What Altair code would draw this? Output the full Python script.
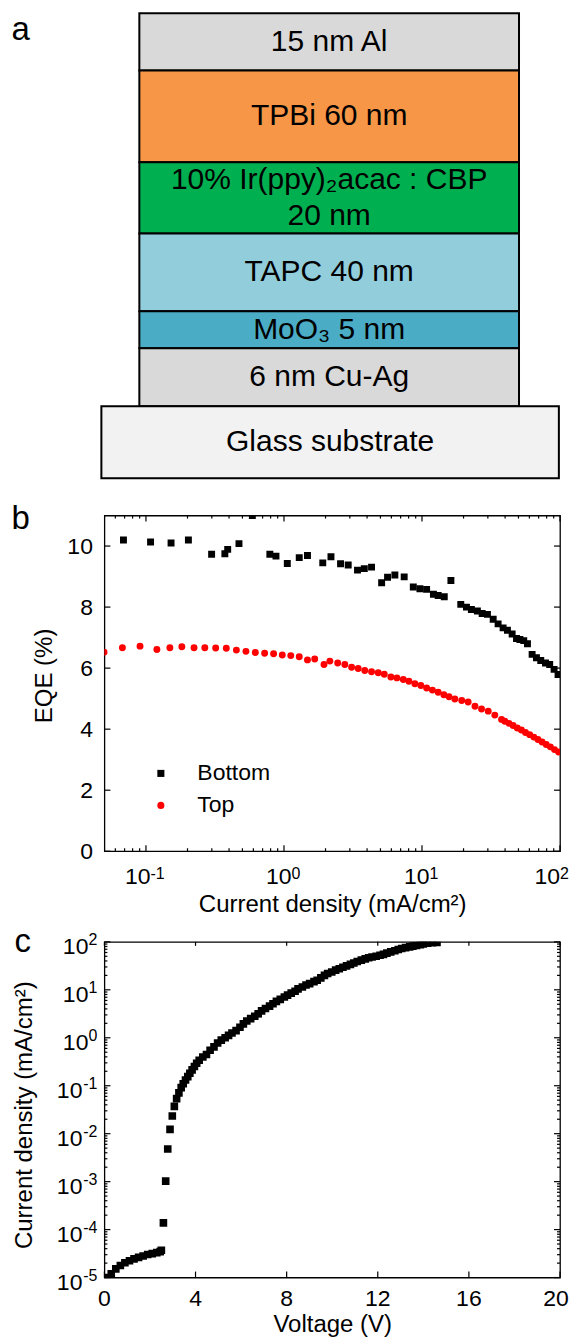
import altair as alt
import numpy as np
import pandas as pd

FONT = "Liberation Sans"

# ---------------- panel a: device stack ----------------
stack_labels = ["15 nm Al", "TPBi 60 nm", "10% Ir(ppy)₂acac : CBP\n20 nm",
                "TAPC 40 nm", "MoO₃ 5 nm", "6 nm Cu-Ag", "Glass substrate"]
stack_colors = ["#d9d9d9", "#f79646", "#00b050", "#92cddc", "#4bacc6", "#d9d9d9", "#f2f2f2"]
stack_heights = [57.3, 91.7, 71.3, 78.0, 37.0, 58.0, 72.0]   # drawn thickness (schematic units)
stack_left = [0, 0, 0, 0, 0, 0, -10]
stack_right = [100, 100, 100, 100, 100, 100, 110.5]

# ---------------- panel b: EQE vs current density ----------------
bottom_j = [0.0687, 0.108, 0.152, 0.203, 0.299, 0.373, 0.391, 0.472, 0.59, 0.79,
            0.875, 1.057, 1.29, 1.48, 1.91, 2.19, 2.57, 2.92, 3.41, 3.82,
            4.31, 5.1, 5.63, 6.36, 7.43, 8.65, 9.66, 10.8, 12.1, 13.1,
            14.5, 16.2, 19.1, 21.0, 22.8, 25.2, 27.3, 29.8, 32.8, 35.6,
            38.7, 41.6, 45.0, 48.4, 51.2, 54.6, 58.1, 62.8, 67.5, 72.5,
            78.5, 84.2, 90.6, 96.8]
bottom_eqe = [10.2, 10.13, 10.1, 10.2, 9.73, 9.75, 9.89, 10.08, 11.0, 9.73,
              9.67, 9.43, 9.62, 9.69, 9.45, 9.65, 9.42, 9.38, 9.21, 9.26,
              9.31, 8.8, 8.98, 9.05, 8.99, 8.66, 8.6, 8.58, 8.42, 8.38,
              8.34, 8.87, 8.09, 8.0, 7.92, 7.87, 7.79, 7.76, 7.6, 7.45,
              7.32, 7.24, 7.12, 6.97, 6.94, 6.9, 6.8, 6.45, 6.34, 6.25,
              6.17, 6.12, 5.96, 5.79]
top_j = [0.0497, 0.0675, 0.0906, 0.12, 0.149, 0.182, 0.223, 0.267, 0.32, 0.382,
         0.452, 0.53, 0.62, 0.724, 0.841, 0.972, 1.12, 1.29, 1.48, 1.67,
         1.95, 2.15, 2.45, 2.76, 3.09, 3.45, 3.85, 4.31, 4.82, 5.33,
         5.95, 6.58, 7.32, 8.04, 8.88, 9.81, 10.8, 11.9, 13.1, 14.4,
         15.7, 17.3, 19.4, 21.6, 24.2, 27.0, 30.2, 33.7, 37.7, 39.8,
         42.7, 45.7, 49.0, 52.5, 56.2, 60.3, 64.6, 69.2, 74.1, 79.4,
         85.1, 91.2, 97.7]
top_eqe = [6.52, 6.67, 6.72, 6.61, 6.67, 6.7, 6.67, 6.67, 6.66, 6.65,
           6.59, 6.55, 6.51, 6.49, 6.47, 6.43, 6.41, 6.37, 6.27, 6.3,
           6.12, 6.23, 6.17, 6.12, 6.03, 5.99, 5.92, 5.88, 5.85, 5.8,
           5.71, 5.68, 5.63, 5.57, 5.49, 5.43, 5.35, 5.28, 5.21, 5.13,
           5.06, 4.99, 4.94, 4.89, 4.75, 4.66, 4.59, 4.46, 4.32, 4.26,
           4.19, 4.12, 4.04, 3.97, 3.89, 3.82, 3.74, 3.66, 3.58, 3.5,
           3.42, 3.33, 3.25]
b_major = [0.1, 1, 10, 100]
b_exp = ["-1", "0", "1", "2"]
b_minor = [m * 10.0 ** k for k in (-2, -1, 0, 1) for m in range(2, 10) if 0.05 < m * 10.0 ** k < 100]
b_yticks = [0, 2, 4, 6, 8, 10]

# ---------------- panel c: J-V ----------------
volt = [0.1, 0.3, 0.5, 0.7, 0.9, 1.1, 1.3, 1.5, 1.7, 1.9,
        2.1, 2.3, 2.45, 2.5, 2.59, 2.69, 2.78, 2.88, 2.98, 3.07,
        3.17, 3.27, 3.37, 3.46, 3.56, 3.66, 3.75, 3.85, 3.95, 4.05,
        4.16, 4.32, 4.48, 4.64, 4.81, 4.97, 5.13, 5.3, 5.45, 5.6,
        5.78, 5.95, 6.1, 6.25, 6.42, 6.6, 6.75, 6.9, 7.07, 7.25,
        7.4, 7.55, 7.72, 7.9, 8.04, 8.2, 8.37, 8.5, 8.69, 8.85,
        9.01, 9.2, 9.34, 9.5, 9.66, 9.8, 9.98, 10.15, 10.31, 10.47,
        10.63, 10.8, 10.95, 11.1, 11.28, 11.45, 11.6, 11.75, 11.93, 12.1,
        12.25, 12.4, 12.57, 12.75, 12.9, 13.05, 13.22, 13.4, 13.54, 13.7,
        13.87, 14.0, 14.19, 14.4, 14.6]
log_j = [-5.0, -4.92, -4.82, -4.75, -4.69, -4.65, -4.61, -4.58, -4.55, -4.52,
         -4.5, -4.48, -4.46, -4.43, -3.86, -2.99, -2.32, -1.91, -1.63, -1.43,
         -1.27, -1.15, -1.04, -0.96, -0.88, -0.81, -0.74, -0.67, -0.6, -0.53,
         -0.47, -0.4, -0.35, -0.26, -0.19, -0.11, -0.05, 0.0, 0.05, 0.1,
         0.15, 0.22, 0.29, 0.35, 0.4, 0.45, 0.5, 0.56, 0.61, 0.66,
         0.71, 0.76, 0.8, 0.85, 0.89, 0.93, 0.97, 1.02, 1.06, 1.1,
         1.13, 1.17, 1.2, 1.25, 1.3, 1.34, 1.37, 1.41, 1.44, 1.47,
         1.5, 1.53, 1.56, 1.59, 1.62, 1.645, 1.67, 1.685, 1.7, 1.72,
         1.74, 1.765, 1.79, 1.815, 1.84, 1.86, 1.88, 1.895, 1.91, 1.925,
         1.94, 1.955, 1.97, 1.98, 1.99]
c_xticks = [0, 4, 8, 12, 16, 20]
c_xlabels = ["0", "4", "8", "12", "16", "20"]
c_major = [1e-5, 1e-4, 1e-3, 1e-2, 1e-1, 1e0, 1e1, 1e2]
c_exp = ["-5", "-4", "-3", "-2", "-1", "0", "1", "2"]
c_minor = [m * 10.0 ** k for k in range(-5, 2) for m in range(2, 10)]

W = 456
HA = 411.6
HB = 336
HC = 336
SPACING = 90.7
TICK = 1.2
LINE_H = 36

# ================= panel a =================
dfa = pd.DataFrame({"label": stack_labels, "color": stack_colors, "h": stack_heights,
                    "x0": stack_left, "x1": stack_right})
dfa["y1"] = dfa["h"].cumsum()
dfa["y0"] = dfa["y1"] - dfa["h"]
dfa["ym"] = (dfa["y0"] + dfa["y1"]) / 2
dfa["xm"] = (dfa["x0"] + dfa["x1"]) / 2
rows = []
for _, r in dfa.iterrows():
    lines = r["label"].split("\n")
    n = len(lines)
    for i, ln in enumerate(lines):
        rows.append({"line": ln, "xm": r["xm"], "ym": r["ym"] + (i - (n - 1) / 2) * LINE_H})
dft = pd.DataFrame(rows)

xa_scale = alt.Scale(domain=[-9.2, 110.8], nice=False, zero=False)
ya_scale = alt.Scale(domain=[0, HA], reverse=True, nice=False, zero=False)

rects = alt.Chart(dfa).mark_rect(stroke="black", strokeWidth=2).encode(
    x=alt.X("x0:Q", scale=xa_scale, axis=None), x2="x1:Q",
    y=alt.Y("y0:Q", scale=ya_scale, axis=None), y2="y1:Q",
    fill=alt.Fill("color:N", scale=None))
rtext = alt.Chart(dft).mark_text(fontSize=30, color="black", baseline="middle").encode(
    x=alt.X("xm:Q", scale=xa_scale, axis=None),
    y=alt.Y("ym:Q", scale=ya_scale, axis=None),
    text="line:N")
let_a = alt.Chart(pd.DataFrame({"t": ["a"]})).mark_text(
    fontSize=33, align="left", baseline="alphabetic", color="black").encode(
    x=alt.value(-93), y=alt.value(26.3), text="t:N")
pa = alt.layer(rects, rtext, let_a).properties(
    width=W, height=HA, view=alt.ViewBackground(stroke="transparent"))

# ================= panel b =================
dfb = pd.concat([
    pd.DataFrame({"series": "Bottom", "j": bottom_j, "eqe": bottom_eqe}),
    pd.DataFrame({"series": "Top", "j": top_j, "eqe": top_eqe}),
], ignore_index=True)

XB = alt.X("j:Q", scale=alt.Scale(type="log", domain=[0.05, 100], nice=False),
           axis=alt.Axis(labels=False, ticks=False, domain=False, grid=False,
                         title="Current density (mA/cm²)", titleFontSize=24,
                         titleX=W / 2, titleY=53, titleBaseline="middle", titleAlign="center"))
YB = alt.Y("eqe:Q", scale=alt.Scale(domain=[0, 11], nice=False, zero=False),
           axis=alt.Axis(values=b_yticks, ticks=False, domain=False, grid=False,
                         labelPadding=12, labelFontSize=23,
                         title="EQE (%)", titleFontSize=24, titleAngle=270,
                         titleX=-60, titleY=160, titleBaseline="middle", titleAlign="center"))

leg = alt.Legend(title=None, orient="none", legendX=45, legendY=HA + SPACING + 247,
                 labelFontSize=23, labelOffset=25, symbolSize=50, symbolStrokeWidth=0,
                 rowPadding=8, padding=0, labelFont=FONT)
pts_b = alt.Chart(dfb).mark_point(filled=True, size=48, opacity=1, clip=True).encode(
    x=XB, y=YB,
    color=alt.Color("series:N", scale=alt.Scale(domain=["Bottom", "Top"], range=["black", "#ff0000"]), legend=leg),
    shape=alt.Shape("series:N", scale=alt.Scale(domain=["Bottom", "Top"], range=["square", "circle"]), legend=leg))

yt_b = pd.DataFrame({"eqe": b_yticks})
xt_b_major = pd.DataFrame({"j": b_major})
xt_b_minor = pd.DataFrame({"j": b_minor})
rl = dict(color="black", strokeWidth=TICK)
b_rules = [
    alt.Chart(yt_b).mark_rule(**rl).encode(y=YB, x=alt.value(0), x2=alt.value(6)),
    alt.Chart(yt_b).mark_rule(**rl).encode(y=YB, x=alt.value(W - 6), x2=alt.value(W)),
    alt.Chart(xt_b_major).mark_rule(**rl).encode(x=XB, y=alt.value(HB - 6), y2=alt.value(HB)),
    alt.Chart(xt_b_major).mark_rule(**rl).encode(x=XB, y=alt.value(0), y2=alt.value(6)),
    alt.Chart(xt_b_minor).mark_rule(**rl).encode(x=XB, y=alt.value(HB - 3), y2=alt.value(HB)),
    alt.Chart(xt_b_minor).mark_rule(**rl).encode(x=XB, y=alt.value(0), y2=alt.value(3)),
]
lab_b = pd.DataFrame({"j": b_major, "exp": b_exp})
b_labels = []
for cond, dx in (("length(datum.exp) == 1 && datum.j < 100", 7.5),
                 ("length(datum.exp) == 2", 4.5),
                 ("datum.j >= 100", 0)):
    b_labels.append(alt.Chart(lab_b).transform_filter(cond).mark_text(
        fontSize=23, align="right", baseline="alphabetic", dx=dx, color="black").encode(
        x=XB, y=alt.value(HB + 33), text=alt.value("10")))
    b_labels.append(alt.Chart(lab_b).transform_filter(cond).mark_text(
        fontSize=16, align="left", baseline="alphabetic", dx=dx, color="black").encode(
        x=XB, y=alt.value(HB + 28), text="exp:N"))
let_b = alt.Chart(pd.DataFrame({"t": ["b"]})).mark_text(
    fontSize=33, align="left", baseline="alphabetic", color="black").encode(
    x=alt.value(-93), y=alt.value(13), text="t:N")
pb = alt.layer(pts_b, *b_rules, *b_labels, let_b).properties(width=W, height=HB)

# ================= panel c =================
dfc = pd.DataFrame({"v": volt, "jc": [10.0 ** l for l in log_j]})
XC = alt.X("v:Q", scale=alt.Scale(domain=[0, 20], nice=False, zero=False),
           axis=alt.Axis(labels=False, ticks=False, domain=False, grid=False,
                         title="Voltage (V)", titleFontSize=24,
                         titleX=W / 2, titleY=47, titleBaseline="middle", titleAlign="center"))
YC = alt.Y("jc:Q", scale=alt.Scale(type="log", domain=[1e-5, 100], nice=False),
           axis=alt.Axis(labels=False, ticks=False, domain=False, grid=False,
                         title="Current density (mA/cm²)", titleFontSize=24, titleAngle=270,
                         titleX=-80, titleY=173, titleBaseline="middle", titleAlign="center"))
pts_c = alt.Chart(dfc).mark_point(shape="square", filled=True, size=58, opacity=1,
                                  color="black", clip=True).encode(x=XC, y=YC)
yt_c_major = pd.DataFrame({"jc": c_major})
yt_c_minor = pd.DataFrame({"jc": c_minor})
xt_c = pd.DataFrame({"v": c_xticks, "lab": c_xlabels})
c_rules = [
    alt.Chart(yt_c_major).mark_rule(**rl).encode(y=YC, x=alt.value(0), x2=alt.value(6)),
    alt.Chart(yt_c_major).mark_rule(**rl).encode(y=YC, x=alt.value(W - 6), x2=alt.value(W)),
    alt.Chart(yt_c_minor).mark_rule(**rl).encode(y=YC, x=alt.value(0), x2=alt.value(3)),
    alt.Chart(yt_c_minor).mark_rule(**rl).encode(y=YC, x=alt.value(W - 3), x2=alt.value(W)),
    alt.Chart(xt_c).mark_rule(**rl).encode(x=XC, y=alt.value(HC - 6), y2=alt.value(HC)),
    alt.Chart(xt_c).mark_rule(**rl).encode(x=XC, y=alt.value(0), y2=alt.value(4)),
]
c_xlab = [
    alt.Chart(xt_c).transform_filter("datum.v < 20").mark_text(
        fontSize=23, align="center", baseline="alphabetic", color="black").encode(
        x=XC, y=alt.value(HC + 28.5), text="lab:N"),
    alt.Chart(xt_c).transform_filter("datum.v >= 20").mark_text(
        fontSize=23, align="center", baseline="alphabetic", dx=-4, color="black").encode(
        x=XC, y=alt.value(HC + 28.5), text="lab:N"),
]
lab_c = pd.DataFrame({"jc": c_major, "exp": c_exp})
c_labels = []
for cond, dx in (("length(datum.exp) == 1", -16), ("length(datum.exp) == 2", -22)):
    c_labels.append(alt.Chart(lab_c).transform_filter(cond).mark_text(
        fontSize=23, align="right", baseline="alphabetic", dx=dx, dy=12, color="black").encode(
        x=alt.value(0), y=YC, text=alt.value("10")))
    c_labels.append(alt.Chart(lab_c).transform_filter(cond).mark_text(
        fontSize=16, align="right", baseline="alphabetic", dx=-7, dy=3, color="black").encode(
        x=alt.value(0), y=YC, text="exp:N"))
let_c = alt.Chart(pd.DataFrame({"t": ["c"]})).mark_text(
    fontSize=33, align="left", baseline="alphabetic", color="black").encode(
    x=alt.value(-90), y=alt.value(10), text="t:N")
pc = alt.layer(pts_c, *c_rules, *c_xlab, *c_labels, let_c).properties(width=W, height=HC)

chart = alt.vconcat(pa, pb, pc, spacing=SPACING, bounds="flush").configure(
    font=FONT, padding={"top": 2.7, "left": 2.5, "right": 0, "bottom": 0}
).configure_view(stroke="black", strokeWidth=1.3).configure_axis(
    labelColor="black", titleColor="black", titleFontWeight="normal",
    labelFont=FONT, titleFont=FONT
).configure_text(font=FONT).configure_legend(labelFont=FONT, labelColor="black", labelFontSize=23)

chart.save("out.html", embed_options={"renderer": "svg", "actions": False})
